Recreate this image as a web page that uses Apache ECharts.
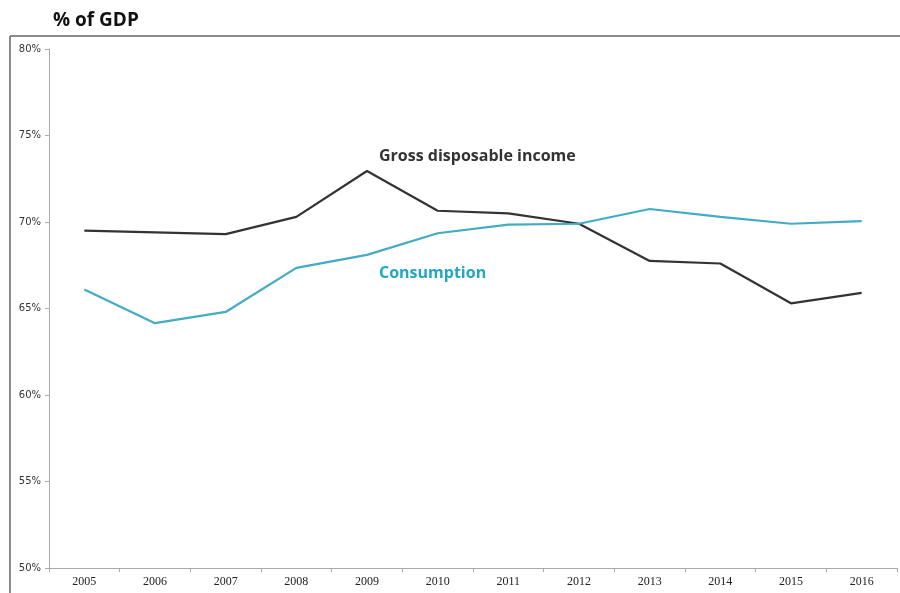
<!DOCTYPE html>
<html>
<head>
<meta charset="utf-8">
<title>% of GDP</title>
<script src="https://cdn.jsdelivr.net/npm/echarts@6/dist/echarts.min.js"></script>
<style>
  html, body { margin: 0; padding: 0; background: #fff; }
  #canvas { width: 900px; height: 593px; }
</style>
</head>
<body>
<div id="canvas"></div>
<script type="text/javascript">
    // data
    var years = ['2005', '2006', '2007', '2008', '2009', '2010', '2011', '2012', '2013', '2014', '2015', '2016'];
    var grossIncome = [69.5, 69.4, 69.3, 70.3, 72.95, 70.65, 70.5, 69.9, 67.75, 67.6, 65.3, 65.9];
    var consumption = [66.1, 64.15, 64.8, 67.35, 68.1, 69.35, 69.85, 69.9, 70.75, 70.3, 69.9, 70.05];

    var dark = '#333333';
    var teal = '#42abc6';

    var myChart = echarts.init(document.querySelector('#canvas'));
    var option = {
        animation: false,
        backgroundColor: '#fff',
        grid: { left: 49, right: 3, top: 49, bottom: 25 },
        xAxis: {
            type: 'category',
            data: years,
            boundaryGap: true,
            axisLine: { lineStyle: { color: '#aaaaaa', width: 1 } },
            axisTick: { show: true, length: 4, lineStyle: { color: '#aaaaaa' } },
            axisLabel: { color: '#222', fontFamily: 'Liberation Serif', fontSize: 12, margin: 8 }
        },
        yAxis: {
            type: 'value',
            min: 50,
            max: 80,
            interval: 5,
            splitLine: { show: false },
            axisLine: { show: true, lineStyle: { color: '#aaaaaa', width: 1 } },
            axisTick: { show: true, length: 4, lineStyle: { color: '#aaaaaa' } },
            axisLabel: {
                color: '#333', fontFamily: 'DejaVu Sans', fontSize: 10, margin: 8,
                formatter: function (v) { return v + '%'; }
            }
        },
        graphic: [
            // outer frame (top and left edges)
            { type: 'line', shape: { x1: 10, y1: 36, x2: 900, y2: 36 }, style: { stroke: '#8a8a8a', lineWidth: 2 } },
            { type: 'line', shape: { x1: 10, y1: 36, x2: 10, y2: 593 }, style: { stroke: '#8a8a8a', lineWidth: 2 } },
            { type: 'text', left: 53, top: 11, style: { text: '% of GDP', fill: '#111', font: 'bold 19px "Open Sans"' } },
            { type: 'text', left: 379, top: 148, style: { text: 'Gross disposable income', fill: dark, font: 'bold 16px "Open Sans"' } },
            { type: 'text', left: 379, top: 265, style: { text: 'Consumption', fill: '#21a6c4', font: 'bold 16px "Open Sans"' } }
        ],
        series: [
            {
                name: 'Gross disposable income',
                type: 'line',
                data: grossIncome,
                symbol: 'none',
                lineStyle: { color: dark, width: 2.2 }
            },
            {
                name: 'Consumption',
                type: 'line',
                data: consumption,
                symbol: 'none',
                lineStyle: { color: teal, width: 2.2 }
            }
        ]
    };
    myChart.setOption(option);
</script>
</body>
</html>
